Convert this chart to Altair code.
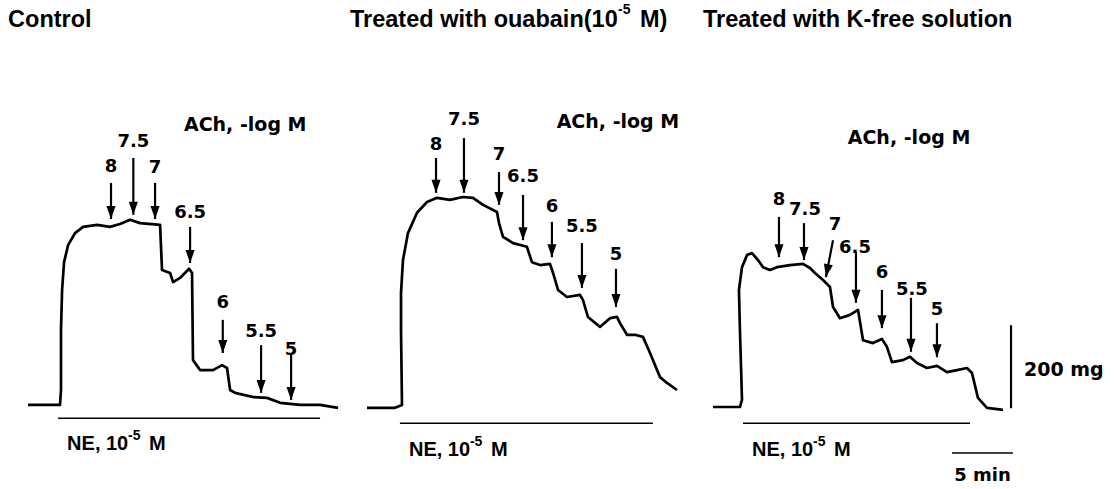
import altair as alt
import pandas as pd
import math

# ---- layout of the recording sheet ----
W, H = 1115, 489
PX_PER_MIN = 12.2        # 5 min bar = 61 px
PX_PER_MG = 0.415        # 200 mg bar = 83 px
BASE_PX = 407            # pixel row of the 0 mg baseline
FONT_A = "DejaVu Sans"
FONT_B = "Liberation Sans"

panels = ["Control", "Ouabain", "K-free"]
panel_start = [2.30, 30.08, 58.44]   # chart minute at which each recording begins

# titles: (main text, superscript, tail)
title_main = ["Control", "Treated with ouabain(10", "Treated with K-free solution"]
title_sup = ["", "-5", ""]
title_tail = ["", "M)", ""]
title_t = [-1.64, -1.39, -0.82]
title_mg = 933

# ---- tension traces (min from start of recording, mg above baseline) ----
ctrl_t = [0.00, 2.62, 2.70, 2.70, 2.79, 2.95, 3.28, 3.85, 4.51, 5.66, 6.72, 7.54, 8.36, 9.18,
          10.82, 10.98, 11.64, 11.89, 12.46, 13.20, 13.44, 13.52, 14.10, 15.16, 15.90, 16.31,
          16.56, 16.97, 18.44, 19.59, 20.66, 22.30, 23.93, 25.41]
ctrl_mg = [5, 5, 41, 186, 282, 349, 390, 419, 434, 439, 434, 441, 451, 443,
           439, 330, 323, 301, 311, 333, 323, 113, 89, 89, 101, 94,
           41, 34, 24, 22, 10, 5, 5, -2]

ouab_t = [0.00, 2.30, 2.87, 2.79, 2.79, 2.95, 3.36, 4.10, 4.92, 5.74, 6.80, 7.87, 8.69, 9.51,
          10.66, 10.82, 11.15, 11.97, 13.11, 13.52, 14.18, 15.00, 15.25, 15.66, 16.39, 17.46,
          17.70, 18.11, 19.10, 19.92, 20.49, 20.74, 21.31, 21.97, 22.62, 23.20, 24.02, 24.59, 25.41]
ouab_mg = [-2, -2, 5, 186, 275, 354, 419, 468, 494, 504, 499, 506, 504, 487,
           470, 443, 410, 395, 386, 349, 342, 345, 323, 282, 265, 270,
           258, 217, 193, 214, 217, 202, 174, 174, 169, 130, 72, 58, 41]

kfree_t = [0.00, 2.21, 2.38, 2.21, 2.13, 2.38, 2.79, 3.20, 3.69, 4.10, 4.67, 5.25, 6.31, 7.38,
           7.95, 8.36, 9.02, 9.59, 9.84, 10.41, 11.23, 11.89, 12.30, 13.11, 13.85, 14.26,
           14.67, 15.57, 16.15, 16.72, 17.54, 18.36, 19.18, 20.00, 20.82, 21.23, 21.72, 22.46, 23.77]
kfree_mg = [0, 0, 17, 186, 282, 337, 366, 371, 354, 337, 330, 337, 342, 345,
            335, 323, 306, 289, 241, 214, 222, 234, 161, 154, 164, 145,
            108, 113, 121, 106, 94, 99, 84, 89, 94, 82, 22, -2, -7]

traces = [(ctrl_t, ctrl_mg), (ouab_t, ouab_mg), (kfree_t, kfree_mg)]

# ---- ACh additions (-log M) ----
ach_labels = ["8", "7.5", "7", "6.5", "6", "5.5", "5"]
ach_tip_t = [[6.80, 8.63, 10.41, 13.28, 15.96, 19.10, 21.56],
             [5.66, 7.95, 10.82, 12.79, 15.16, 17.62, 20.41],
             [5.41, 7.46, 9.26, 11.72, 13.85, 16.23, 18.36]]
ach_top_t = [[6.80, 8.63, 10.41, 13.28, 15.96, 19.10, 21.56],
             [5.66, 7.95, 10.82, 12.79, 15.16, 17.62, 20.41],
             [5.41, 7.46, 9.84, 11.72, 13.85, 16.23, 18.36]]
ach_top_mg = [[540, 600, 540, 434, 210, 149, 130],
              [600, 648, 566, 511, 446, 395, 333],
              [458, 443, 402, 374, 282, 263, 202]]
ach_tip_mg = [[453, 463, 453, 347, 130, 34, 17],
              [516, 516, 487, 402, 361, 287, 241],
              [361, 354, 313, 251, 190, 133, 120]]
ach_label_t = [[6.80, 8.63, 10.41, 13.28, 15.96, 19.10, 21.56],
               [5.66, 7.95, 10.82, 12.79, 15.16, 17.62, 20.41],
               [5.41, 7.54, 10.00, 11.64, 13.85, 16.31, 18.36]]
ach_label_mg = [[578, 639, 576, 468, 251, 181, 137],
                [631, 692, 607, 554, 482, 434, 366],
                [499, 475, 439, 383, 323, 282, 234]]

ach_head_t = [17.8, 20.57, 16.07]
ach_head_mg = [680, 687, 648]

# ---- NE application bars ----
ne_from = [2.46, 2.70, 2.46]
ne_to = [23.93, 23.44, 21.07]
ne_mg = [-27, -39, -39]
ne_text_t = [3.20, 3.44, 3.20]
ne_text_mg = [-89, -104, -104]

# ---- calibration (drawn in the K-free panel) ----
cal_t = 24.43
cal_base_mg = -3
cal_len_mg = 200
cal_label_t = 25.49
cal_label_mg = 89
time_from = 19.59
time_len = 5
time_mg = -111
time_label_mg = -166

# offsets of superscript pieces (screen px)
NE_SUP_DX, NE_TAIL_DX, NE_SUP_DY = 61, 82, 8
TI_SUP_DX, TI_TAIL_DX, TI_SUP_DY = 268, 290, 10

# ================= build tables =================
rows = []
for p, (ts, ms) in enumerate(traces):
    for i, (t, m) in enumerate(zip(ts, ms)):
        rows.append({"panel": panels[p], "i": i, "t": panel_start[p] + t, "mg": m})
trace_df = pd.DataFrame(rows)

arr = []
for p in range(3):
    for k, lab in enumerate(ach_labels):
        tt = panel_start[p] + ach_tip_t[p][k]
        tp = panel_start[p] + ach_top_t[p][k]
        dx = (tt - tp) * PX_PER_MIN
        dy = (ach_top_mg[p][k] - ach_tip_mg[p][k]) * PX_PER_MG
        ang = math.degrees(math.atan2(-dx, dy))
        arr.append({"tip_t": tt, "top_t": tp, "top_mg": ach_top_mg[p][k],
                    "tip_mg": ach_tip_mg[p][k], "angle": ang % 360,
                    "lab": lab, "lab_t": panel_start[p] + ach_label_t[p][k],
                    "lab_mg": ach_label_mg[p][k]})
arrow_df = pd.DataFrame(arr)

center_text = []   # DejaVu Sans bold
left_a = []        # DejaVu Sans bold, left aligned
left_b = []        # Liberation Sans bold, left aligned
for p in range(3):
    center_text.append({"t": panel_start[p] + ach_head_t[p], "mg": ach_head_mg[p],
                        "txt": "ACh, -log M", "fs": 19})
    t0 = panel_start[p] + ne_text_t[p]
    m0 = ne_text_mg[p]
    left_b.append({"t": t0, "mg": m0, "txt": "NE, 10", "fs": 20})
    left_b.append({"t": t0 + NE_SUP_DX / PX_PER_MIN, "mg": m0 + NE_SUP_DY / PX_PER_MG,
                   "txt": "-5", "fs": 14})
    left_b.append({"t": t0 + NE_TAIL_DX / PX_PER_MIN, "mg": m0, "txt": "M", "fs": 20})
    t1 = panel_start[p] + title_t[p]
    left_b.append({"t": t1, "mg": title_mg, "txt": title_main[p], "fs": 23.5})
    if title_sup[p]:
        left_b.append({"t": t1 + TI_SUP_DX / PX_PER_MIN, "mg": title_mg + TI_SUP_DY / PX_PER_MG,
                       "txt": title_sup[p], "fs": 14})
        left_b.append({"t": t1 + TI_TAIL_DX / PX_PER_MIN, "mg": title_mg,
                       "txt": title_tail[p], "fs": 23.5})
left_a.append({"t": panel_start[2] + cal_label_t, "mg": cal_label_mg,
               "txt": "200 mg", "fs": 19})
center_text.append({"t": panel_start[2] + time_from + time_len / 2, "mg": time_label_mg,
                    "txt": "5 min", "fs": 18})
center_df = pd.DataFrame(center_text)
left_a_df = pd.DataFrame(left_a)
left_b_df = pd.DataFrame(left_b)

seg = []
for p in range(3):
    seg.append({"x1": panel_start[p] + ne_from[p], "x2": panel_start[p] + ne_to[p],
                "y1": ne_mg[p], "y2": ne_mg[p], "w": 1.6})
seg.append({"x1": panel_start[2] + cal_t, "x2": panel_start[2] + cal_t,
            "y1": cal_base_mg, "y2": cal_base_mg + cal_len_mg, "w": 2.2})
seg.append({"x1": panel_start[2] + time_from, "x2": panel_start[2] + time_from + time_len,
            "y1": time_mg, "y2": time_mg, "w": 1.6})
seg_df = pd.DataFrame(seg)

# ================= scales =================
xs = alt.Scale(domain=[0, W / PX_PER_MIN], nice=False, zero=False)
ys = alt.Scale(domain=[-(H - BASE_PX) / PX_PER_MG, BASE_PX / PX_PER_MG], nice=False, zero=False)

line = alt.Chart(trace_df).mark_line(color="black", strokeWidth=2.7, strokeJoin="round").encode(
    x=alt.X("t:Q", scale=xs, axis=None),
    y=alt.Y("mg:Q", scale=ys, axis=None),
    detail="panel:N",
    order="i:Q",
)

shafts = alt.Chart(arrow_df).mark_rule(color="black", strokeWidth=2.2).encode(
    x=alt.X("top_t:Q", scale=xs, axis=None),
    x2="tip_t:Q",
    y=alt.Y("top_mg:Q", scale=ys, axis=None),
    y2="tip_mg:Q",
)

heads = alt.Chart(arrow_df).mark_point(
    shape="M-0.7,-2L0.7,-2L0,0Z", filled=True, color="black", opacity=1, size=169
).encode(
    x=alt.X("tip_t:Q", scale=xs, axis=None),
    y=alt.Y("tip_mg:Q", scale=ys, axis=None),
    angle=alt.Angle("angle:Q", scale=None),
)

labels = alt.Chart(arrow_df).mark_text(font=FONT_A, fontWeight="bold", fontSize=18,
                                        color="black", align="center",
                                        baseline="middle").encode(
    x=alt.X("lab_t:Q", scale=xs, axis=None),
    y=alt.Y("lab_mg:Q", scale=ys, axis=None),
    text="lab:N",
)


def text_layer(df, font, align):
    return alt.Chart(df).mark_text(font=font, fontWeight="bold", color="black",
                                   align=align, baseline="middle").encode(
        x=alt.X("t:Q", scale=xs, axis=None),
        y=alt.Y("mg:Q", scale=ys, axis=None),
        text="txt:N",
        size=alt.Size("fs:Q", scale=None),
    )


ctext = text_layer(center_df, FONT_A, "center")
ltext_a = text_layer(left_a_df, FONT_A, "left")
ltext_b = text_layer(left_b_df, FONT_B, "left")

segs = alt.Chart(seg_df).mark_rule(color="black").encode(
    x=alt.X("x1:Q", scale=xs, axis=None),
    x2="x2:Q",
    y=alt.Y("y1:Q", scale=ys, axis=None),
    y2="y2:Q",
    strokeWidth=alt.StrokeWidth("w:Q", scale=None),
)

chart = alt.layer(line, segs, shafts, heads, labels, ctext, ltext_a, ltext_b).properties(
    width=W, height=H, padding=0, autosize=alt.AutoSizeParams(type="none"),
    background="white",
).configure_view(stroke=None)

chart.save("out.html", embed_options={"renderer": "svg", "actions": False})
